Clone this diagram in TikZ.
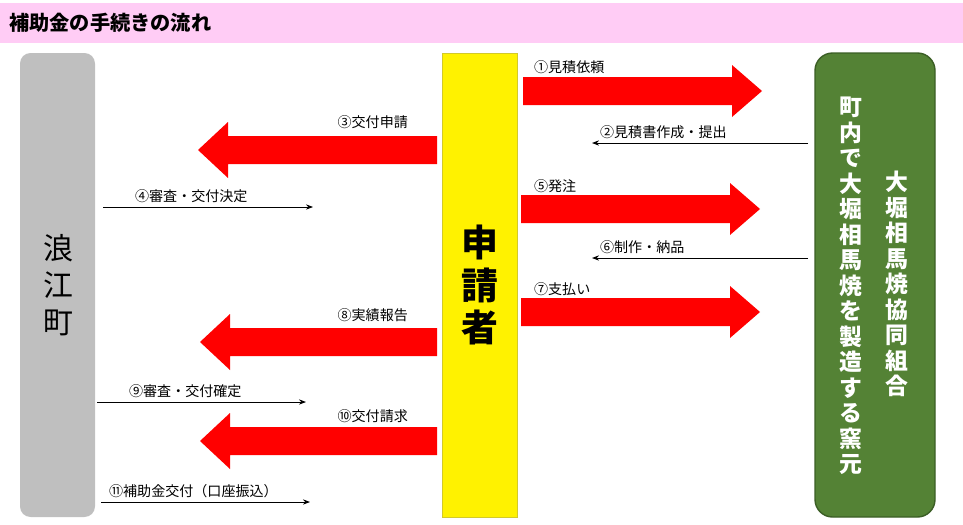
\documentclass[tikz,border=0pt]{standalone}
\usepackage{fontspec}
\setmainfont{Noto Sans CJK JP}
\usetikzlibrary{arrows.meta,positioning}
\definecolor{titlepink}{HTML}{FFCCF5}
\definecolor{townGray}{HTML}{BFBFBF}
\definecolor{kilnGreen}{HTML}{548235}
\definecolor{kilnEdge}{HTML}{3B5E25}
\tikzset{
  lbl/.style={font=\fontsize{8}{9}\selectfont, inner sep=1pt},
  thin/.style={-{Stealth[length=4pt,width=3pt]}, line width=0.5pt},
  vtxt/.style={align=center, inner sep=0pt}
}
\newcommand{\bigright}[3]{% x1, x2, y centre
  \fill[red] (#1,#3-14) -- (#2-30,#3-14) -- (#2-30,#3-26) -- (#2,#3) -- (#2-30,#3+26) -- (#2-30,#3+14) -- (#1,#3+14) -- cycle;}
\newcommand{\bigleft}[3]{% x1 (tip), x2, y centre
  \fill[red] (#2,#3-14) -- (#1+30,#3-14) -- (#1+30,#3-28) -- (#1,#3) -- (#1+30,#3+28) -- (#1+30,#3+14) -- (#2,#3+14) -- cycle;}
\begin{document}
\begin{tikzpicture}[x=0.02cm,y=-0.02cm]
  \useasboundingbox (0,0) rectangle (963,524);

  % title
  \fill[titlepink] (0,3) rectangle (963,43);
  \node[anchor=west, font=\fontsize{11.5}{12}\selectfont\bfseries] (title) at (3,23) {補助金の手続きの流れ};

  % three columns
  \fill[townGray, rounded corners=6pt] (20,53) rectangle (95,517);
  \node[vtxt, font=\fontsize{17}{21}\selectfont] (town) at (58,285) {浪\\江\\町};

  \filldraw[fill=yellow, draw=yellow!80!black, line width=0.4pt] (442,53) rectangle (517,517);
  \node[vtxt, font=\fontsize{21}{24}\selectfont\bfseries] (applicant) at (480,285) {申\\請\\者};

  \filldraw[fill=kilnGreen, draw=kilnEdge, line width=0.8pt, rounded corners=10pt] (815,53) rectangle (935,517);
  \node[vtxt, text=white, font=\fontsize{13}{14.5}\selectfont\bfseries] (union) at (897,284) {大\\堀\\相\\馬\\焼\\協\\同\\組\\合};
  \node[vtxt, text=white, font=\fontsize{13}{14.5}\selectfont\bfseries] (kilns) at (851,286) {町\\内\\で\\大\\堀\\相\\馬\\焼\\を\\製\\造\\す\\る\\窯\\元};

  % big arrows
  \bigright{523}{762}{91}
  \bigright{521}{760}{209}
  \bigright{521}{760}{312}
  \bigleft{198}{437}{150}
  \bigleft{200}{437}{342}
  \bigleft{200}{437}{441}

  \node[lbl, anchor=south west] (s1) at (532,76) {①見積依頼};
  \node[lbl, anchor=south east] (s3) at (410,131) {③交付申請};
  \node[lbl, anchor=south west] (s5) at (532,195) {⑤発注};
  \node[lbl, anchor=south west] (s7) at (532,298) {⑦支払い};
  \node[lbl, anchor=south east] (s8) at (410,324) {⑧実績報告};
  \node[lbl, anchor=south east] (s10) at (410,425) {⑩交付請求};

  % thin arrows
  \coordinate (a2s) at (808,143); \coordinate (a2e) at (592,143);
  \coordinate (a4s) at (103,207); \coordinate (a4e) at (313,207);
  \coordinate (a6s) at (808,258); \coordinate (a6e) at (592,258);
  \coordinate (a9s) at (97,402);  \coordinate (a9e) at (306,402);
  \coordinate (a11s) at (101,502); \coordinate (a11e) at (310,502);
  \draw[thin] (a2s) -- (a2e);
  \draw[thin] (a4s) -- (a4e);
  \draw[thin] (a6s) -- (a6e);
  \draw[thin] (a9s) -- (a9e);
  \draw[thin] (a11s) -- (a11e);
  \node[lbl, anchor=south west] (s2) at (598,141) {②見積書作成・提出};
  \node[lbl, anchor=south west] (s4) at (133,205) {④審査・交付決定};
  \node[lbl, anchor=south west] (s6) at (598,256) {⑥制作・納品};
  \node[lbl, anchor=south west] (s9) at (127,400) {⑨審査・交付確定};
  \node[lbl, anchor=south west] (s11) at (107,500) {⑪補助金交付（口座振込）};
\end{tikzpicture}
\end{document}
